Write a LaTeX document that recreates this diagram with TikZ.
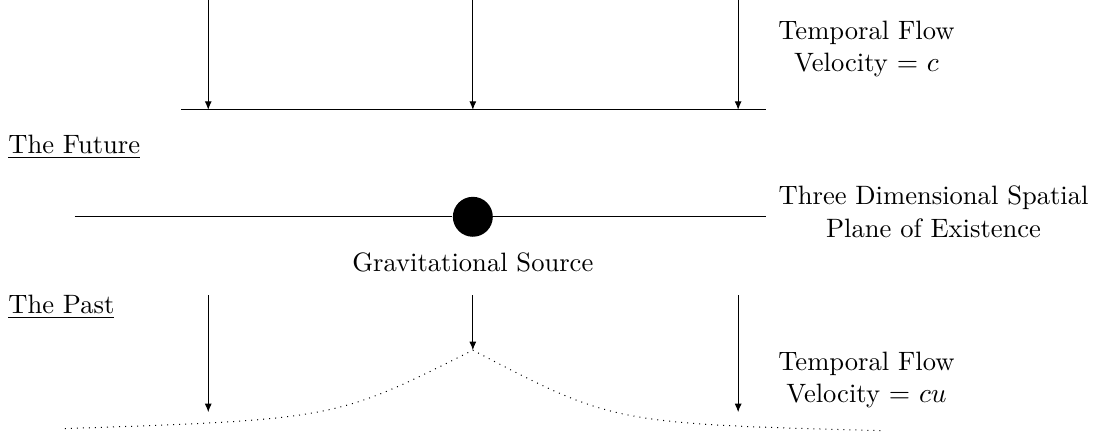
\documentclass[tikz,border=0pt]{standalone}
\usepackage{amsmath, amssymb}
\usepackage{xcolor}
\usepackage{tikz}
\usetikzlibrary{arrows.meta, positioning, calc}

\begin{document}
\begin{tikzpicture}[
    every node/.style={font=\fontsize{10.6}{12.8}\selectfont},
    flow/.style={draw, -{Latex[length=3.4pt, width=2.8pt]}},
    plane/.style={draw},
    lab/.style={align=center},
    era/.style={anchor=base west, inner sep=0pt},
    mass/.style={circle, fill=black, minimum size=0.56cm, inner sep=0pt}
  ]
  \useasboundingbox (0,0) rectangle (15.34,6.10);

  % the future
  \foreach \n/\x in {l/2.92, m/6.63, r/10.35} {
    \coordinate (top\n) at (\x,6.10);
    \coordinate (fut\n) at (\x,4.56);
    \draw[flow] (top\n) -- (fut\n);
  }
  \coordinate (futA) at (2.54,4.56);
  \coordinate (futB) at (10.74,4.56);
  \draw[plane] (futA) -- (futB);
  \node[lab] (velc) at (12.15,5.41) {Temporal Flow\\Velocity $=$ $c$};
  \node[era] (future) at (0.11,3.95) {\underline{The Future}};

  % spatial plane
  \node[mass] (src) at (6.63,3.06) {};
  \coordinate (planeA) at (1.05,3.06);
  \coordinate (planeB) at (10.74,3.06);
  \coordinate (planeC) at (2.18,3.06);
  \draw[plane] (planeA) -- (src) -- (planeB);
  \draw[dotted] (planeA) -- (planeC);
  \node[lab] (space) at (13.09,3.13) {Three Dimensional Spatial\\Plane of Existence};
  \node[lab, below=0.1cm of src] (srclab) {Gravitational Source};

  % the past
  \node[era] (past) at (0.11,1.71) {\underline{The Past}};
  \coordinate (pastl) at (2.92,1.96);
  \coordinate (pastm) at (6.63,1.96);
  \coordinate (pastr) at (10.35,1.96);
  \coordinate (endl) at (2.92,0.32);
  \coordinate (cusp) at (6.63,1.19);
  \coordinate (endr) at (10.35,0.32);
  \draw[flow] (pastl) -- (endl);
  \draw[flow] (pastm) -- (cusp);
  \draw[flow] (pastr) -- (endr);
  \coordinate (warpA) at (0.91,0.09);
  \coordinate (warpB) at (12.41,0.06);
  \draw[dotted] (warpA) .. controls (4.7,0.22) .. (cusp)
                        .. controls (8.6,0.16) .. (warpB);
  \node[lab] (velcu) at (12.15,0.77) {Temporal Flow\\Velocity $=$ $cu$};
\end{tikzpicture}
\end{document}
